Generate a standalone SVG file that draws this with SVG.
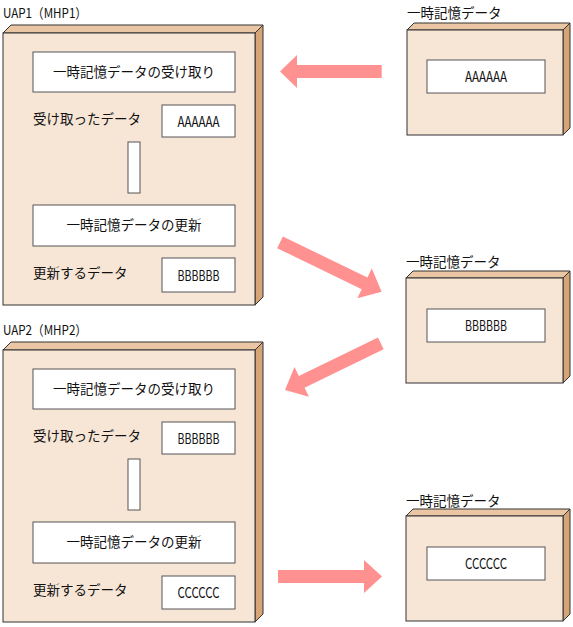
<svg xmlns="http://www.w3.org/2000/svg" width="573" height="627" viewBox="0 0 573 627">
<style>
.front{fill:#F7E6D6;stroke:#333;stroke-width:1}
.top{fill:#EBC6A4;stroke:#333;stroke-width:1}
.side{fill:#D5A577;stroke:#333;stroke-width:1}
.inner{fill:#fff;stroke:#555;stroke-width:1}
.t{font-family:"Noto Sans CJK JP","Liberation Sans",sans-serif;font-size:13.5px;fill:#111}
.l{font-size:15px}
.c{text-anchor:middle}
.arrow{fill:#FF9191}
</style>
<rect width="573" height="627" fill="#fff"/>

<g id="uap1">
<text class="t" x="3" y="18" textLength="84" lengthAdjust="spacingAndGlyphs">UAP1（MHP1）</text>
<polygon class="top" points="3,33 11,25 263,25 255,33"/>
<polygon class="side" points="255,33 263,25 263,297 255,305"/>
<rect class="front" x="3" y="33" width="252" height="272"/>
<rect class="inner" x="33" y="52" width="202" height="40"/>
<text class="t c" x="134" y="77">一時記憶データの受け取り</text>
<text class="t" x="33" y="124">受け取ったデータ</text>
<rect class="inner" x="162" y="105" width="73" height="32"/>
<text class="t l c" x="198.5" y="126.5" textLength="42" lengthAdjust="spacingAndGlyphs">AAAAAA</text>
<rect class="inner" x="128" y="142" width="12" height="51"/>
<rect class="inner" x="33" y="205" width="202" height="41"/>
<text class="t c" x="134" y="230">一時記憶データの更新</text>
<text class="t" x="33" y="278">更新するデータ</text>
<rect class="inner" x="162" y="258" width="73" height="34"/>
<text class="t l c" x="198.5" y="280.5" textLength="42" lengthAdjust="spacingAndGlyphs">BBBBBB</text>
</g>

<g id="uap2">
<text class="t" x="3" y="335" textLength="84" lengthAdjust="spacingAndGlyphs">UAP2（MHP2）</text>
<polygon class="top" points="3,350 11,342 263,342 255,350"/>
<polygon class="side" points="255,350 263,342 263,614 255,622"/>
<rect class="front" x="3" y="350" width="252" height="272"/>
<rect class="inner" x="33" y="369" width="202" height="40"/>
<text class="t c" x="134" y="394">一時記憶データの受け取り</text>
<text class="t" x="33" y="441">受け取ったデータ</text>
<rect class="inner" x="162" y="422" width="73" height="32"/>
<text class="t l c" x="198.5" y="443.5" textLength="42" lengthAdjust="spacingAndGlyphs">BBBBBB</text>
<rect class="inner" x="128" y="459" width="12" height="51"/>
<rect class="inner" x="33" y="522" width="202" height="41"/>
<text class="t c" x="134" y="547">一時記憶データの更新</text>
<text class="t" x="33" y="595">更新するデータ</text>
<rect class="inner" x="162" y="576" width="73" height="33"/>
<text class="t l c" x="198.5" y="597.5" textLength="42" lengthAdjust="spacingAndGlyphs">CCCCCC</text>
</g>

<g id="mem1">
<text class="t" x="407" y="18">一時記憶データ</text>
<polygon class="top" points="407,30 414,23 570,23 563,30"/>
<polygon class="side" points="563,30 570,23 570,128 563,135"/>
<rect class="front" x="407" y="30" width="156" height="105"/>
<rect class="inner" x="427" y="60" width="118" height="33"/>
<text class="t l c" x="486" y="82" textLength="42" lengthAdjust="spacingAndGlyphs">AAAAAA</text>
</g>

<g id="mem2">
<text class="t" x="406" y="267">一時記憶データ</text>
<polygon class="top" points="406,278 413,271 570,271 563,278"/>
<polygon class="side" points="563,278 570,271 570,376 563,383"/>
<rect class="front" x="406" y="278" width="157" height="105"/>
<rect class="inner" x="427" y="309" width="118" height="33"/>
<text class="t l c" x="486" y="331" textLength="42" lengthAdjust="spacingAndGlyphs">BBBBBB</text>
</g>

<g id="mem3">
<text class="t" x="406" y="505.5">一時記憶データ</text>
<polygon class="top" points="406,516 413,509 570,509 563,516"/>
<polygon class="side" points="563,516 570,509 570,614 563,621"/>
<rect class="front" x="406" y="516" width="157" height="105"/>
<rect class="inner" x="427" y="547" width="118" height="33"/>
<text class="t l c" x="486" y="569" textLength="42" lengthAdjust="spacingAndGlyphs">CCCCCC</text>
</g>

<g id="connectors">
<path class="arrow" transform="translate(381.7,71.5) rotate(180)" d="M0,-6.5 L84.7,-6.5 L84.7,-16.5 L101.7,0 L84.7,16.5 L84.7,6.5 L0,6.5 Z"/>
<path class="arrow" transform="translate(280,242.3) rotate(25.9)" d="M0,-6.5 L94,-6.5 L94,-16.5 L113,0 L94,16.5 L94,6.5 L0,6.5 Z"/>
<path class="arrow" transform="translate(380.8,343.3) rotate(154)" d="M0,-6.5 L88,-6.5 L88,-16.5 L106.6,0 L88,16.5 L88,6.5 L0,6.5 Z"/>
<path class="arrow" transform="translate(278,576.5)" d="M0,-6.5 L86,-6.5 L86,-16.5 L104,0 L86,16.5 L86,6.5 L0,6.5 Z"/>
</g>
</svg>
